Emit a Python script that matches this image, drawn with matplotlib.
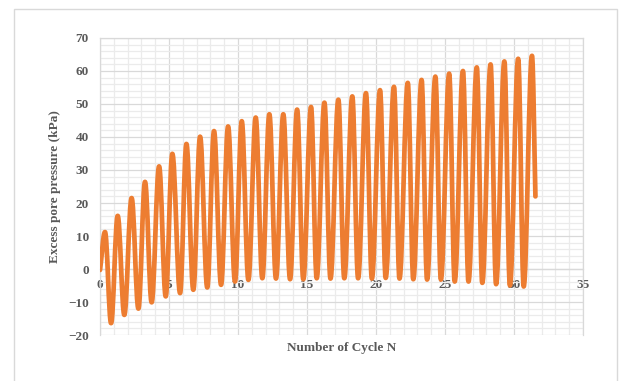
import numpy as np
import matplotlib
matplotlib.use("Agg")
import matplotlib.pyplot as plt
from matplotlib.path import Path
from matplotlib.patches import PathPatch, Rectangle
from matplotlib.ticker import MultipleLocator

# peaks and troughs of the excess pore pressure record
peak_n = [0.36, 1.28, 2.29, 3.26, 4.28, 5.24, 6.26, 7.25, 8.26, 9.28, 10.27,
          11.28, 12.27, 13.28, 14.28, 15.29, 16.26, 17.27, 18.28, 19.27, 20.29,
          21.3, 22.3, 23.3, 24.3, 25.3, 26.3, 27.3, 28.3, 29.3, 30.3, 31.3]
peak_p = [11.2, 16.1, 21.5, 26.4, 31.1, 34.9, 37.9, 40.1, 41.8, 43.2, 44.8,
          45.9, 46.9, 46.9, 48.3, 49.1, 50.4, 51.3, 52.3, 53.3, 54.2,
          55.2, 56.4, 57.3, 58.3, 59.2, 60.0, 61.1, 62.0, 62.9, 63.7, 64.6]
trough_n = [0.8, 1.76, 2.78, 3.74, 4.76, 5.8, 6.76, 7.77, 8.77, 9.78, 10.75,
            11.76, 12.75, 13.77, 14.73, 15.7, 16.7, 17.7, 18.7, 19.7, 20.7,
            21.7, 22.7, 23.7, 24.7, 25.7, 26.7, 27.7, 28.7, 29.7, 30.7]
trough_p = [-16.4, -13.9, -12.0, -10.1, -8.3, -7.3, -6.3, -5.6, -4.8, -3.8, -3.3,
            -2.8, -2.9, -3.1, -3.1, -2.8, -2.9, -2.8, -2.8, -2.9, -2.7,
            -2.9, -3.1, -3.2, -3.2, -3.8, -3.8, -4.2, -4.6, -5.0, -5.3]
start_pt = (0.0, -0.3)
end_pt = (31.55, 22.0)

xticks = [0, 5, 10, 15, 20, 25, 30, 35]
yticks = [-20, -10, 0, 10, 20, 30, 40, 50, 60, 70]

orange = "#ED7D31"
txt = "#595959"
plt.rcParams["font.family"] = ["Liberation Serif", "DejaVu Serif"]

# ordered extrema: start, peak, trough, peak, ..., peak, end
pts = [start_pt]
for i in range(len(peak_n)):
    pts.append((peak_n[i], peak_p[i]))
    if i < len(trough_n):
        pts.append((trough_n[i], trough_p[i]))
pts.append(end_pt)

# smoothed line (like excel's smoothed scatter): horizontal tangents at extrema
k = 0.3642
verts = [pts[0]]
codes = [Path.MOVETO]
for j in range(len(pts) - 1):
    x0, y0 = pts[j]
    x1, y1 = pts[j + 1]
    dx = x1 - x0
    if j == 0:
        c1 = (x0 + (x1 - x0) / 3, y0 + (y1 - y0) / 3)
    else:
        c1 = (x0 + k * dx, y0)
    if j == len(pts) - 2:
        c2 = (x1 - (x1 - x0) / 3, y1 - (y1 - y0) / 3)
    else:
        c2 = (x1 - k * dx, y1)
    verts += [c1, c2, (x1, y1)]
    codes += [Path.CURVE4] * 3

fig = plt.figure(figsize=(6.19, 3.81), dpi=100)
fig.patches.append(Rectangle((0.0226, -0.05), 0.9742, 1.0264, transform=fig.transFigure,
                             fill=False, edgecolor="#d9d9d9", lw=1.0))
ax = fig.add_axes([0.1616, 0.1207, 0.7803, 0.7796])

patch = PathPatch(Path(verts, codes), fill=False, edgecolor=orange, lw=3.4,
                  capstyle="round", joinstyle="round", zorder=3)
ax.add_patch(patch)

ax.set_xlim(0, 35)
ax.set_ylim(-20, 70)
ax.set_xticks(xticks)
ax.set_yticks(yticks)
ax.xaxis.set_minor_locator(MultipleLocator(1))
ax.yaxis.set_minor_locator(MultipleLocator(2))
ax.grid(which="major", color="#d9d9d9", lw=0.9)
ax.grid(which="minor", color="#ebebeb", lw=0.9)

for s in ax.spines.values():
    s.set_color("#d9d9d9")
    s.set_linewidth(0.9)
ax.spines["bottom"].set_position(("data", 0))

ax.tick_params(which="both", length=0)
ax.tick_params(axis="x", pad=7.5, labelsize=9.5, labelcolor=txt)
ax.tick_params(axis="y", pad=8, labelsize=9.5, labelcolor=txt)
for lab in ax.get_xticklabels() + ax.get_yticklabels():
    lab.set_fontweight("bold")

ax.set_xlabel("Number of Cycle N", fontsize=9.5, fontweight="bold", color=txt)
ax.set_ylabel("Excess pore pressure (kPa)", fontsize=9.5, fontweight="bold", color=txt)
ax.xaxis.set_label_coords(0.5, -0.043)
ax.xaxis.label.set_va("center")
ax.yaxis.set_label_coords(-0.093, 0.5)
ax.yaxis.label.set_va("center")

fig.savefig("out.png", dpi=100)
